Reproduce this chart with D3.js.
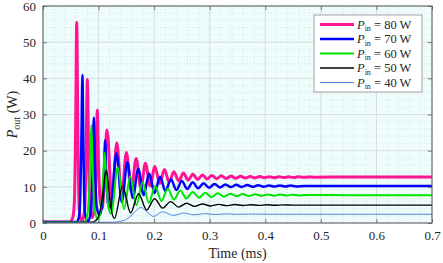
<!DOCTYPE html>
<html>
<head>
<meta charset="utf-8">
<script src="https://cdn.jsdelivr.net/npm/d3@7"></script>
<style>
  body { margin: 0; background: #fff; }
  svg { display: block; }
  svg text { font-family: "Liberation Serif", "Times New Roman", "DejaVu Serif", serif; }
</style>
</head>
<body>
<div id="chart"></div>
<script>
// values: [time (ms), Pout (W)]
var p80 = [[0,0.3],[0.048,0.3],[0.0535,1.5],[0.0565,6],[0.0588,28],[0.0607,55.5],[0.0626,28],[0.065,4],[0.07,0.3],
  [0.0752,4],[0.0776,20],[0.0798,39.7],[0.082,20],[0.0845,4],[0.0888,1.5],[0.0935,6],[0.0956,16],[0.0978,31.2],[0.1,16],
  [0.1025,7],[0.1065,4],[0.1153,25.7],[0.124,6],[0.1328,22.2],[0.1415,7.5],[0.1501,19.5],[0.1588,8.7],[0.1676,17.8],
  [0.176,9.6],[0.1843,16.5],[0.1928,10.3],[0.2013,15.6],[0.21,10.9],[0.2186,14.8],[0.227,11.3],[0.2355,14.2],[0.2442,11.6],
  [0.2528,13.8],[0.2612,11.85],[0.2697,13.5],[0.2784,12],[0.287,13.3],[0.2955,12.15],[0.304,13.15],[0.3124,12.25],
  [0.3207,13.05],[0.3295,12.3],[0.3382,12.97],[0.3468,12.37],[0.3555,12.92],[0.3641,12.42],[0.3728,12.88],[0.3814,12.46],
  [0.3901,12.85],[0.3987,12.5],[0.4074,12.82],[0.416,12.53],[0.4247,12.8],[0.4333,12.56],[0.442,12.78],[0.4506,12.58],
  [0.4593,12.76],[0.468,12.62],[0.4766,12.74],[0.49,12.68],[0.55,12.7],[0.7,12.7]];
var p70 = [[0,0.25],[0.06,0.25],[0.0645,1.5],[0.0672,8],[0.069,22],[0.0709,40.9],[0.0728,20],[0.0752,3],[0.0812,0.4],
  [0.0868,4],[0.0893,15],[0.0915,29.2],[0.0937,15],[0.0965,4.5],[0.1017,2.2],[0.1072,6],[0.1095,12],[0.1118,22.9],
  [0.1141,12],[0.117,5.5],[0.1219,4.3],[0.132,19.3],[0.1419,5.8],[0.1518,16.8],[0.1616,6.9],[0.1714,15],[0.1812,7.7],
  [0.191,13.7],[0.2008,8.3],[0.2106,12.8],[0.2204,8.8],[0.2302,12.1],[0.24,9.15],[0.2498,11.6],[0.2596,9.4],[0.2694,11.25],
  [0.2792,9.6],[0.289,11],[0.2988,9.75],[0.3086,10.8],[0.3184,9.85],[0.3282,10.65],[0.338,9.92],[0.3478,10.55],
  [0.3576,9.97],[0.3674,10.5],[0.3772,10],[0.387,10.45],[0.3968,10.03],[0.4066,10.4],[0.4164,10.06],[0.4262,10.37],
  [0.436,10.08],[0.4458,10.34],[0.4556,10.12],[0.47,10.25],[0.55,10.2],[0.7,10.2]];
var p60 = [[0,0.22],[0.074,0.22],[0.0795,2],[0.083,9],[0.085,18],[0.087,27.1],[0.0893,16],[0.0925,4],[0.099,1],
  [0.1055,6],[0.108,12],[0.111,19.5],[0.114,11],[0.1175,4.5],[0.1228,2.6],[0.1345,15.4],[0.1458,3.9],[0.157,12.9],
  [0.1681,4.9],[0.1792,11.3],[0.1905,5.6],[0.2018,10.2],[0.2131,6.1],[0.2245,9.5],[0.2357,6.5],[0.247,9],[0.2582,6.8],
  [0.2695,8.6],[0.2807,7],[0.292,8.35],[0.3032,7.15],[0.3145,8.2],[0.3257,7.28],[0.337,8.1],[0.3482,7.38],[0.3595,8.02],
  [0.3707,7.45],[0.382,7.96],[0.3932,7.5],[0.4045,7.91],[0.4157,7.55],[0.427,7.87],[0.4382,7.58],[0.4495,7.84],
  [0.4607,7.62],[0.475,7.75],[0.55,7.7],[0.7,7.7]];
var p50 = [[0,0.2],[0.088,0.2],[0.096,0.8],[0.103,3.5],[0.108,8.5],[0.1115,13],[0.114,14.6],[0.1168,12],[0.1205,6],
  [0.1286,1.3],[0.1432,10.2],[0.1576,2.8],[0.172,8.1],[0.1864,3.6],[0.2008,6.7],[0.2152,4.1],[0.2296,5.9],[0.244,4.4],
  [0.2584,5.45],[0.2728,4.6],[0.2872,5.25],[0.3016,4.72],[0.316,5.15],[0.3304,4.8],[0.3448,5.1],[0.3592,4.85],
  [0.3736,5.06],[0.388,4.88],[0.4024,5.03],[0.4168,4.9],[0.4312,5.01],[0.45,4.94],[0.55,4.95],[0.7,4.95]];
var p40 = [[0,0.2],[0.125,0.2],[0.138,0.4],[0.15,1],[0.16,2.2],[0.168,3.5],[0.176,4.3],[0.186,3.2],[0.199,1.8],
  [0.215,3.1],[0.235,2.1],[0.253,2.75],[0.272,2.25],[0.291,2.6],[0.31,2.35],[0.33,2.52],[0.35,2.4],[0.37,2.47],
  [0.4,2.43],[0.7,2.43]];

var legendKeys = ["80", "70", "60", "50", "40"];
var xTicks = [0, 0.1, 0.2, 0.3, 0.4, 0.5, 0.6, 0.7];
var yTicks = [0, 10, 20, 30, 40, 50, 60];

var series = [
  { key: legendKeys[0], values: p80, color: "#ff1493", width: 3 },
  { key: legendKeys[1], values: p70, color: "#0000ff", width: 2.5 },
  { key: legendKeys[2], values: p60, color: "#00e600", width: 2 },
  { key: legendKeys[3], values: p50, color: "#000000", width: 1.4 },
  { key: legendKeys[4], values: p40, color: "#4f86dc", width: 1 }
];

var serif = "'Liberation Serif', 'Times New Roman', 'DejaVu Serif', serif";
var containerwidth = 443, containerheight = 263;
var margin = { top: 6, right: 11, bottom: 40, left: 43 };
var width = containerwidth - margin.left - margin.right;
var height = containerheight - margin.top - margin.bottom;

var svg = d3.select("#chart").append("svg")
  .attr("width", containerwidth)
  .attr("height", containerheight)
  .attr("font-family", serif);
var g = svg.append("g")
  .attr("transform", "translate(" + margin.left + "," + margin.top + ")");

var xScale = d3.scaleLinear().domain([0, 0.7]).range([0, width]);
var yScale = d3.scaleLinear().domain([0, 60]).range([height, 0]);

// plot background
g.append("rect").attr("width", width).attr("height", height).attr("fill", "#effcfc");

// minor grid (dotted)
var minorG = g.append("g").attr("class", "minor-grid");
minorG.selectAll("line.vx").data(xScale.ticks(35)).enter().append("line")
  .attr("x1", function(d) { return xScale(d); }).attr("x2", function(d) { return xScale(d); })
  .attr("y1", 0).attr("y2", height);
minorG.selectAll("line.hy").data(yScale.ticks(30)).enter().append("line")
  .attr("y1", function(d) { return yScale(d); }).attr("y2", function(d) { return yScale(d); })
  .attr("x1", 0).attr("x2", width);
minorG.selectAll("line")
  .attr("stroke", "#c9d3d6").attr("stroke-width", 0.6).attr("stroke-dasharray", "1,2");

// major grid
var majorG = g.append("g").attr("class", "major-grid");
majorG.selectAll("line.vx").data(xTicks).enter().append("line")
  .attr("x1", function(d) { return xScale(d); }).attr("x2", function(d) { return xScale(d); })
  .attr("y1", 0).attr("y2", height);
majorG.selectAll("line.hy").data(yTicks).enter().append("line")
  .attr("y1", function(d) { return yScale(d); }).attr("y2", function(d) { return yScale(d); })
  .attr("x1", 0).attr("x2", width);
majorG.selectAll("line").attr("stroke", "#d3d8d9").attr("stroke-width", 0.8);

// curves
g.append("clipPath").attr("id", "clip").append("rect").attr("width", width).attr("height", height);
var line = d3.line()
  .x(function(d) { return xScale(d[0]); })
  .y(function(d) { return yScale(d[1]); })
  .curve(d3.curveMonotoneX);
g.append("g").attr("clip-path", "url(#clip)")
  .selectAll("path").data(series).enter().append("path")
  .attr("d", function(d) { return line(d.values); })
  .attr("fill", "none")
  .attr("stroke", function(d) { return d.color; })
  .attr("stroke-width", function(d) { return d.width; })
  .attr("stroke-linejoin", "round");

// axes, ticks pointing inward on all four sides
var xAxis = d3.axisBottom(xScale).tickValues(xTicks).tickSize(-4).tickPadding(8).tickFormat(d3.format("~g"));
var yAxis = d3.axisLeft(yScale).tickValues(yTicks).tickSize(-4).tickPadding(7);
var xAxisG = g.append("g").attr("transform", "translate(0," + height + ")").call(xAxis);
var yAxisG = g.append("g").call(yAxis);
g.append("g").call(d3.axisTop(xScale).tickValues(xTicks).tickSize(-4).tickFormat(""));
g.append("g").attr("transform", "translate(" + width + ",0)")
  .call(d3.axisRight(yScale).tickValues(yTicks).tickSize(-4).tickFormat(""));
g.selectAll(".domain").remove();
xAxisG.attr("font-family", serif).attr("font-size", 13);
yAxisG.attr("font-family", serif).attr("font-size", 13);
g.selectAll(".tick line").attr("stroke", "#5a5a5a").attr("stroke-width", 0.8);
g.selectAll(".tick text").attr("fill", "#262626");

g.append("rect").attr("width", width).attr("height", height)
  .attr("fill", "none").attr("stroke", "#5a5a5a").attr("stroke-width", 1);

// axis labels
xAxisG.append("text")
  .attr("x", width / 2).attr("y", 35)
  .attr("fill", "#262626").attr("font-size", 14).style("text-anchor", "middle")
  .text("Time (ms)");
var yl = yAxisG.append("text")
  .attr("transform", "rotate(-90)")
  .attr("x", -height / 2).attr("y", -26)
  .attr("fill", "#262626").attr("font-size", 14).style("text-anchor", "middle");
yl.append("tspan").style("font-style", "italic").text("P");
yl.append("tspan").attr("dy", 3).attr("font-size", 10).text("out");
yl.append("tspan").attr("dy", -3).text(" (W)");

// legend
var lg = g.append("g").attr("transform", "translate(" + (314 - margin.left) + "," + (15 - margin.top) + ")");
lg.append("rect").attr("width", 108).attr("height", 77)
  .attr("fill", "#fff").attr("stroke", "#8c8c8c").attr("stroke-width", 0.8);
var item = lg.selectAll("g.item").data(series).enter().append("g")
  .attr("transform", function(d, i) { return "translate(0," + (9.5 + i * 14.5) + ")"; });
item.append("line").attr("x1", 6).attr("x2", 40)
  .attr("stroke", function(d) { return d.color; })
  .attr("stroke-width", function(d) { return d.width; });
var lt = item.append("text").attr("x", 43).attr("y", 4)
  .attr("fill", "#262626").attr("font-size", 12.5);
lt.append("tspan").style("font-style", "italic").text("P");
lt.append("tspan").attr("dy", 2.5).attr("font-size", 8).text("in");
lt.append("tspan").attr("dy", -2.5).text(function(d) { return " = " + d.key + " W"; });
</script>
</body>
</html>
